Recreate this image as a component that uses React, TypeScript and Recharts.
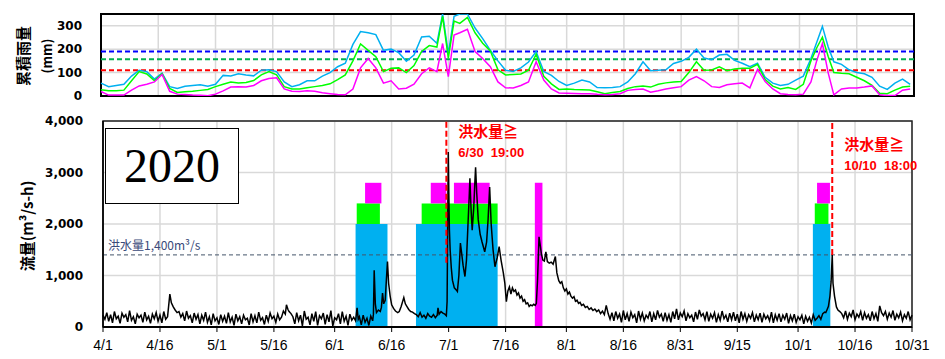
import React from "react";
import {
  LineChart,
  Line,
  XAxis,
  YAxis,
  CartesianGrid,
  ReferenceLine,
  ReferenceArea,
} from "recharts";

// x axis: days since 4/1
const tickDays = [0, 15, 30, 45, 61, 76, 91, 106, 122, 137, 152, 167, 183, 198, 213];
const tickLabels = ["4/1", "4/16", "5/1", "5/16", "6/1", "6/16", "7/1", "7/16", "8/1", "8/16", "8/31", "9/15", "10/1", "10/16", "10/31"];

// cumulative rainfall (mm)
const rainDays = [
  0, 2, 4, 6, 8, 10, 12, 14, 16, 18, 20, 22, 24, 26, 28, 30, 32, 34, 36, 38, 40, 42, 44, 46, 48,
  50, 52, 54, 56, 58, 60, 62, 64, 66, 68, 70, 72, 74, 76, 78, 80, 82, 84, 86, 88, 89.5, 91, 92.5,
  94, 96, 98, 100, 102, 104, 106, 108, 110, 112, 114, 116, 118, 120, 122, 124, 126, 128, 130, 132,
  134, 136, 138, 140, 142, 144, 146, 148, 150, 152, 154, 156, 158, 160, 162, 164, 166, 168, 170,
  172, 174, 176, 178, 180, 182, 184, 186, 187.5, 189, 190.5, 192, 194, 196, 198, 200, 202, 204,
  206, 208, 210, 212,
];
const rainCyan = [
  55, 40, 45, 50, 85, 110, 104, 72, 98, 40, 32, 42, 45, 48, 42, 50, 88, 85, 95, 90, 86, 110, 112,
  104, 60, 40, 48, 65, 65, 85, 100, 125, 140, 220, 275, 270, 262, 195, 200, 185, 148, 175, 252,
  255, 225, 350, 181, 340, 350, 350, 290, 245, 195, 150, 110, 105, 120, 145, 190, 105, 88, 62, 45,
  55, 68, 60, 36, 35, 36, 40, 60, 95, 146, 108, 110, 112, 139, 148, 165, 200, 162, 155, 175, 178,
  152, 140, 125, 140, 80, 55, 45, 50, 68, 85, 160, 228, 297, 210, 146, 135, 112, 100, 95, 80, 42,
  28, 55, 72, 50,
];
const rainGreen = [
  27, 22, 22, 25, 65, 104, 94, 65, 95, 32, 15, 18, 20, 24, 28, 40, 50, 60, 55, 58, 66, 90, 104,
  90, 40, 30, 30, 35, 40, 45, 52, 70, 90, 150, 222, 195, 168, 104, 118, 120, 100, 130, 190, 215,
  209, 340, 162, 320, 310, 335, 270, 225, 192, 112, 90, 92, 94, 110, 178, 84, 52, 28, 30, 28, 27,
  26, 18, 10, 15, 19, 32, 40, 43, 38, 50, 56, 60, 62, 100, 146, 110, 111, 125, 108, 115, 118, 118,
  135, 70, 42, 30, 36, 28, 50, 150, 205, 251, 170, 100, 97, 95, 80, 65, 45, 12, 10, 25, 38, 42,
];
const rainMagenta = [
  19, 4, 4, 4, 25, 43, 50, 60, 92, 20, 8, 6, 4, 3, 1, 8, 22, 38, 40, 38, 45, 65, 75, 78, 30, 20,
  19, 22, 20, 14, 10, 6, 5, 30, 120, 160, 120, 55, 65, 30, 33, 50, 95, 120, 104, 224, 83, 260, 270,
  285, 190, 160, 125, 60, 35, 34, 45, 60, 146, 68, 30, 13, 12, 11, 10, 10, 7, 5, 6, 10, 24, 28, 30,
  16, 22, 30, 35, 40, 68, 83, 65, 40, 36, 48, 52, 55, 35, 114, 62, 30, 10, 6, 5, 8, 60, 150, 224,
  100, 5, 30, 34, 34, 38, 43, 5, 2, 2, 25, 30,
];
const rainLimits = [190, 157, 110];

// river flow (m3/s), half-day steps for quiet spells, [day, flow] around floods
const flowApr = [
  230, 150, 280, 110, 240, 80, 300, 160, 210, 70, 270, 190, 240, 100, 320, 130, 200, 60, 250, 180,
  230, 90, 290, 140, 210, 70, 250, 160, 280, 110, 230, 80, 300, 150,
];
const flowAprPeak = [[17, 200], [17.6, 640], [18, 470], [18.5, 390], [19, 330], [19.5, 280]];
const flowMay = [
  300, 190, 260, 120, 310, 170, 220, 80, 270, 150, 240, 60, 230, 130, 290, 90, 200, 40, 260, 120,
  180, 50, 240, 110, 210, 70, 280, 100, 190, 30, 250, 120, 200, 60, 230, 140, 170, 40, 260, 100,
  220, 80, 290, 130, 180, 50, 230, 110, 270, 160, 210, 90, 250, 140, 190, 310,
];
const flowMayPeak = [[48, 250], [48.3, 430], [48.7, 340], [49, 300], [49.5, 260]];
const flowJun = [
  200, 60, 280, 120, 230, 20, 310, 150, 190, 40, 260, 110, 300, 30, 220, 160, 270, 50, 240, 100,
  320, 20, 180, 140, 260, 60, 300, 110, 210, 30, 250, 130, 190,
];
const flowJunPeak1 = [[66.5, 120], [66.9, 370], [67.2, 150]];
const flowJunMid = [200, 40, 230, 90, 170, 30, 210, 120];
const flowJunPeak2 = [
  [71.2, 250], [71.4, 1100], [71.7, 450], [72, 280], [72.5, 330], [73, 300], [73.3, 380],
  [73.6, 660], [73.9, 450], [74.3, 520], [74.6, 900], [74.9, 1270], [75.2, 850], [75.6, 600],
  [76, 430], [76.5, 360], [77, 310], [77.6, 280], [78, 300], [78.5, 400], [79.2, 570], [79.6, 450],
  [80, 400], [80.5, 340], [81, 300], [81.5, 290], [82, 260],
];
const flowJunLate = [240, 200, 280, 190, 230, 170, 260, 210, 190, 240, 180, 230];
const flowJulFlood = [
  [88.2, 370], [88.5, 250], [89, 300], [89.5, 270], [90, 250], [90.4, 220], [90.6, 500],
  [90.75, 2000], [90.9, 3400], [91.05, 2600], [91.2, 1900], [91.4, 1500], [91.7, 1150], [92, 910],
  [92.5, 760], [93, 720], [93.3, 690], [93.7, 1000], [94.1, 1630], [94.4, 1450], [94.8, 1200],
  [95.3, 980], [95.7, 1300], [96.1, 2000], [96.4, 2500], [96.6, 2890], [96.9, 2300], [97.2, 1880],
  [97.6, 2300], [97.9, 2800], [98.1, 3100], [98.4, 2600], [98.8, 2080], [99.3, 1800], [99.8, 1650],
  [100.5, 1460], [101, 1650], [101.4, 2100], [101.8, 2720], [102.2, 2000], [102.7, 1500],
  [103.2, 1170], [103.8, 1350], [104.3, 1560], [104.8, 1300], [105.4, 1050], [105.8, 850],
  [106.2, 490], [106.6, 700], [107, 780], [107.4, 640], [107.8, 760], [108.2, 690], [108.6, 720],
  [109, 620], [109.4, 660], [109.8, 560], [110.2, 600], [110.6, 500], [111, 530], [111.4, 450],
  [111.8, 470], [112.2, 400], [112.6, 430], [113, 410], [113.4, 440], [113.8, 420], [114.1, 460],
  [114.4, 900], [114.8, 1750], [115.1, 1600], [115.4, 1430], [115.8, 1300], [116.2, 1280],
  [116.6, 1460], [117, 1270], [117.5, 1240], [118, 1260], [118.5, 1220], [119.1, 1370],
  [119.5, 1050], [120, 900], [120.4, 850], [120.8, 880], [121.2, 760], [121.6, 700], [122, 740],
  [122.4, 640], [122.8, 680], [123.2, 600], [123.6, 560], [124, 590], [124.4, 500], [124.8, 520],
  [125.2, 460], [125.6, 480], [126, 420], [126.5, 440], [127, 380], [127.5, 400], [128, 340],
  [128.5, 370], [129, 320], [129.5, 350], [130, 300], [130.5, 330], [131, 260], [131.5, 310],
  [132, 240], [132.5, 420], [133, 260],
];
const flowAugSep = [
  150, 280, 120, 300, 170, 250, 90, 320, 140, 260, 110, 290, 180, 240, 80, 310, 150, 270, 120, 230,
  170, 300, 100, 260, 140, 320, 190, 250, 110, 280, 130, 240, 90, 300, 160, 350, 140, 270, 200, 310,
  120, 260, 180, 230, 100, 290, 150, 330, 210, 260, 140, 300, 110, 250, 170, 280, 90, 240, 130, 310,
  160, 230, 100, 270, 140, 290, 120, 250, 80, 300, 150, 260, 110, 240, 170, 280, 100, 230, 140, 270,
  90, 250, 160, 220, 120, 290, 80, 240, 130, 260, 100, 230, 150, 270, 70, 220, 120, 250, 90, 200,
  140, 230, 60, 210, 110, 190, 80, 240, 130, 170, 220, 150, 260, 290,
];
const flowOctFlood = [
  [190.3, 280], [190.6, 330], [191, 400], [191.4, 600], [191.7, 880], [192, 1400], [192.2, 850],
  [192.6, 600], [193.1, 390], [193.5, 330], [194, 300],
];
const flowOct = [
  260, 180, 310, 150, 270, 200, 330, 140, 250, 190, 300, 130, 280, 170, 240, 120, 300, 160, 260, 110,
  410, 280, 220, 300, 150, 270, 190, 320, 130, 250, 180, 290, 120, 240, 170, 300, 140, 230,
];
const floodLimit = 1400;

// warning periods (days) and their bands on the flow axis
const blueBand = [0, 2000];
const greenBand = [2000, 2400];
const magentaBand = [2400, 2800];
const blueSpans = [[66.5, 74.9], [82.4, 103.9], [186.9, 191.5]];
const greenSpans = [[66.8, 72.9], [83.9, 103.9], [187.4, 191]];
const magentaSpans = [[69, 73.3], [86.3, 90.4], [92.4, 101.8], [188, 191.4]];
const magentaFullSpans = [[113.7, 115.7]];

const floodDays = [90.4, 192.0];
const floodTimes = ["6/30  19:00", "10/10  18:00"];
const floodFrom = [1250, 1400];

const halfDaily = (start: number, values: number[]) =>
  values.map((flow, i) => ({ day: start + i * 0.5, flow }));
const pairs = (list: number[][]) => list.map(([day, flow]) => ({ day, flow }));

const flowData = [
  ...halfDaily(0, flowApr),
  ...pairs(flowAprPeak),
  ...halfDaily(20, flowMay),
  ...pairs(flowMayPeak),
  ...halfDaily(50, flowJun),
  ...pairs(flowJunPeak1),
  ...halfDaily(67.5, flowJunMid),
  ...pairs(flowJunPeak2),
  ...halfDaily(82.5, flowJunLate),
  ...pairs(flowJulFlood),
  ...halfDaily(133.5, flowAugSep),
  ...pairs(flowOctFlood),
  ...halfDaily(194.5, flowOct),
].sort((a, b) => a.day - b.day);

const rainData = rainDays.map((day, i) => ({
  day,
  cyan: rainCyan[i],
  green: rainGreen[i],
  magenta: rainMagenta[i],
}));

const CYAN = "#00B0F0";
const LIME = "#00FF00";
const PINK = "#FF00FF";
const limitColors = ["#0000FF", "#00B050", "#FF0000"];
const labelDy = [0, 13];

const yTick = {
  fill: "#000",
  fontSize: 12,
  fontWeight: 700,
  fontFamily: "'DejaVu Sans', sans-serif",
};

const FloodLabel = (props: any) => {
  const { viewBox, time, dy } = props;
  const x = viewBox.x + 12;
  const y = viewBox.y + dy;
  return (
    <g fill="#FF0000" fontWeight={700}>
      <text x={x} y={y + 16} fontSize={15} fontFamily="'Noto Sans CJK JP', sans-serif">
        洪水量≧
      </text>
      <text
        x={x}
        y={y + 36}
        fontSize={13}
        fontFamily="'Liberation Sans', Arial, sans-serif"
        style={{ whiteSpace: "pre" }}
      >
        {time}
      </text>
    </g>
  );
};

const LimitLabel = (props: any) => {
  const { viewBox } = props;
  return (
    <text
      x={viewBox.x + 5}
      y={viewBox.y - 5}
      fill="#3A4A7A"
      fontSize={12}
      fontFamily="'Noto Sans CJK JP', sans-serif"
    >
      洪水量1,400m³/s
    </text>
  );
};

export default function App() {
  return (
    <div style={{ position: "absolute", left: 0, top: 0, width: 945, height: 359, background: "#fff" }}>
      <div style={{ position: "absolute", left: 0, top: 0 }}>
        <LineChart width={945} height={112} data={rainData} margin={{ top: 14, right: 31, bottom: 16, left: 0 }}>
          <CartesianGrid stroke="#d9d9d9" strokeWidth={1.5} />
          <XAxis type="number" dataKey="day" domain={[0, 213]} ticks={tickDays} hide />
          <YAxis
            domain={[0, 350]}
            ticks={[0, 100, 200, 300]}
            width={101}
            tickLine={false}
            axisLine={false}
            tick={yTick}
            tickMargin={13}
            interval={0}
            allowDataOverflow
          />
          {rainLimits.map((v, i) => (
            <ReferenceLine key={i} y={v} stroke={limitColors[i]} strokeWidth={2} strokeDasharray="5 3" />
          ))}
          <Line dataKey="cyan" stroke={CYAN} strokeWidth={1.5} dot={false} isAnimationActive={false} />
          <Line dataKey="green" stroke={LIME} strokeWidth={1.5} dot={false} isAnimationActive={false} />
          <Line dataKey="magenta" stroke={PINK} strokeWidth={1.5} dot={false} isAnimationActive={false} />
          <ReferenceArea x1={0} x2={213} y1={0} y2={350} fill="none" stroke="#000" strokeWidth={2} />
        </LineChart>
      </div>

      <div style={{ position: "absolute", left: 0, top: 100 }}>
        <LineChart width={945} height={259} data={flowData} margin={{ top: 21, right: 33, bottom: 6, left: 0 }}>
          <CartesianGrid stroke="#d9d9d9" strokeWidth={1.5} />
          <XAxis
            type="number"
            dataKey="day"
            domain={[0, 213]}
            ticks={tickDays}
            tickFormatter={(d: number) => tickLabels[tickDays.indexOf(d)]}
            height={26}
            tickSize={5}
            tickMargin={8}
            axisLine={{ stroke: "#000", strokeWidth: 2 }}
            tickLine={{ stroke: "#000" }}
            tick={{ fill: "#000", fontSize: 14, fontFamily: "'Liberation Sans', Arial, sans-serif" }}
            interval={0}
          />
          <YAxis
            domain={[0, 4000]}
            ticks={[0, 1000, 2000, 3000, 4000]}
            tickFormatter={(v: number) => v.toLocaleString("en-US")}
            width={103}
            tickLine={false}
            axisLine={{ stroke: "#000", strokeWidth: 1.5 }}
            tick={yTick}
            tickMargin={14}
          />
          {blueSpans.map(([a, b], i) => (
            <ReferenceArea key={"b" + i} x1={a} x2={b} y1={blueBand[0]} y2={blueBand[1]} fill={CYAN} fillOpacity={1} />
          ))}
          {greenSpans.map(([a, b], i) => (
            <ReferenceArea key={"g" + i} x1={a} x2={b} y1={greenBand[0]} y2={greenBand[1]} fill={LIME} fillOpacity={1} />
          ))}
          {magentaSpans.map(([a, b], i) => (
            <ReferenceArea key={"m" + i} x1={a} x2={b} y1={magentaBand[0]} y2={magentaBand[1]} fill={PINK} fillOpacity={1} />
          ))}
          {magentaFullSpans.map(([a, b], i) => (
            <ReferenceArea key={"mf" + i} x1={a} x2={b} y1={0} y2={magentaBand[1]} fill={PINK} fillOpacity={1} />
          ))}
          <ReferenceLine
            y={floodLimit}
            stroke="#44546A"
            strokeWidth={1}
            strokeDasharray="4 3"
            label={<LimitLabel />}
          />
          <Line
            dataKey="flow"
            type="linear"
            stroke="#000"
            strokeWidth={1.5}
            dot={false}
            isAnimationActive={false}
          />
          {floodDays.map((d, i) => (
            <ReferenceLine
              key={"f" + i}
              segment={[{ x: d, y: floodFrom[i] }, { x: d, y: 4000 }]}
              stroke="#FF0000"
              strokeWidth={2}
              strokeDasharray="6 3"
              label={<FloodLabel time={floodTimes[i]} dy={labelDy[i]} />}
            />
          ))}
          <ReferenceArea x1={0} x2={213} y1={0} y2={4000} fill="none" stroke="#222" strokeWidth={1.5} />
        </LineChart>
      </div>

      <div
        style={{
          position: "absolute",
          left: 105,
          top: 128,
          width: 132,
          height: 74,
          border: "1.5px solid #000",
          background: "#fff",
          display: "flex",
          alignItems: "center",
          justifyContent: "center",
          fontFamily: "'Liberation Serif', 'Times New Roman', serif",
          fontSize: 48,
          lineHeight: 1,
          color: "#000",
        }}
      >
        2020
      </div>

      <svg width={945} height={359} style={{ position: "absolute", left: 0, top: 0, pointerEvents: "none" }}>
        <g fontFamily="'Noto Sans CJK JP', sans-serif" fontWeight={700} fill="#000">
          <text x={22} y={56} fontSize={15} textAnchor="middle" dominantBaseline="central" transform="rotate(-90 22 56)">
            累積雨量
          </text>
          <text x={46} y={56} fontSize={13} textAnchor="middle" dominantBaseline="central" transform="rotate(-90 46 56)">
            (mm)
          </text>
          <text x={26} y={226} fontSize={15} textAnchor="middle" dominantBaseline="central" transform="rotate(-90 26 226)">
            流量(m³/s-h)
          </text>
        </g>
      </svg>
    </div>
  );
}
